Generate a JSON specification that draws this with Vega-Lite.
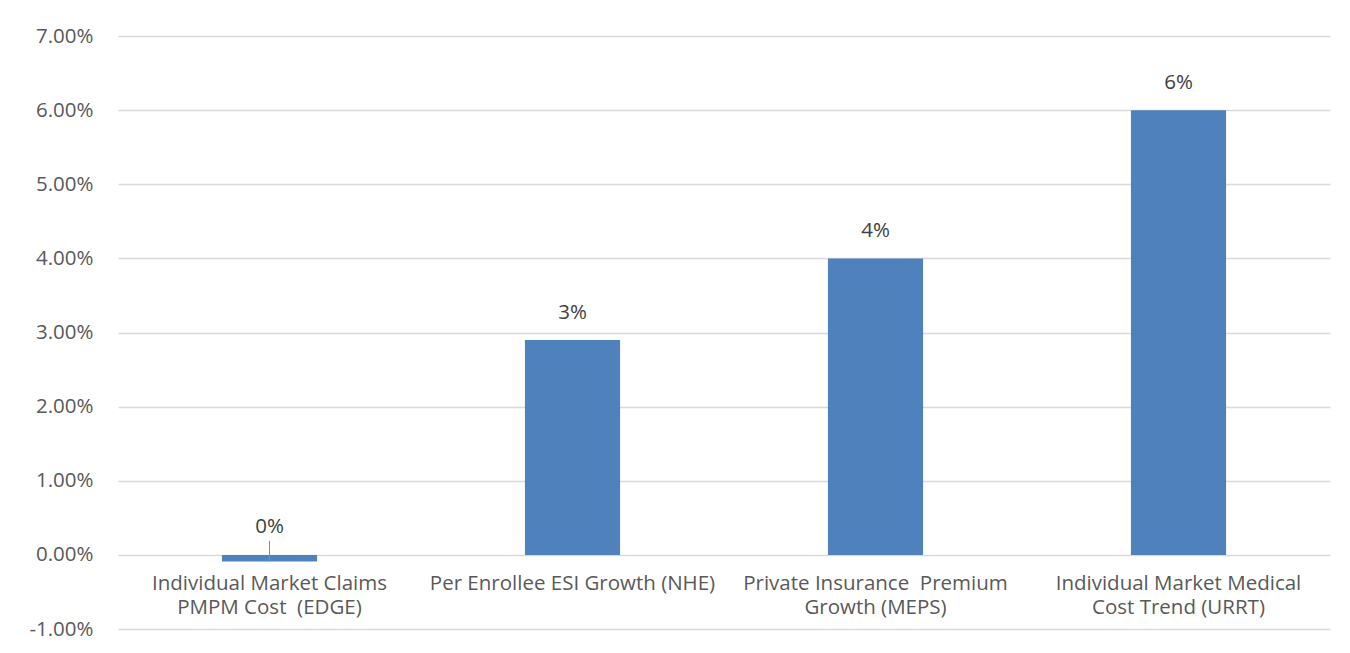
{
  "$schema": "https://vega.github.io/schema/vega-lite/v6.json",
  "width": 1212,
  "height": 593,
  "autosize": {"type": "none"},
  "padding": {"left": 118, "top": 36, "right": 20, "bottom": 24},
  "background": "white",
  "config": {
    "view": {"stroke": null},
    "font": "Open Sans",
    "axis": {"labelFont": "Open Sans", "labelColor": "#595959", "labelFontSize": 20.5, "labelLimit": 0}
  },
  "data": {
    "values": [
      {"category": "Individual Market Claims|PMPM Cost \u00a0(EDGE)", "value": -0.0009, "label": "0%"},
      {"category": "Per Enrollee ESI Growth (NHE)", "value": 0.029, "label": "3%"},
      {"category": "Private Insurance \u00a0Premium|Growth (MEPS)", "value": 0.04, "label": "4%"},
      {"category": "Individual Market Medical|Cost Trend (URRT)", "value": 0.06, "label": "6%"}
    ]
  },
  "encoding": {
    "x": {
      "field": "category",
      "type": "nominal",
      "sort": null,
      "scale": {"paddingInner": 0.686, "paddingOuter": 0.343},
      "axis": {
        "title": null,
        "orient": "bottom",
        "offset": -74.125,
        "domain": false,
        "ticks": false,
        "labelAngle": 0,
        "labelPadding": 19,
        "labelBaseline": "top",
        "labelLineHeight": 24,
        "labelExpr": "split(datum.label, '|')"
      }
    }
  },
  "layer": [
    {
      "mark": {"type": "bar", "color": "#4F81BD"},
      "encoding": {
        "y": {
          "field": "value",
          "type": "quantitative",
          "scale": {"domain": [-0.01, 0.07], "nice": false, "zero": false},
          "axis": {
            "title": null,
            "format": ".2%",
            "labelExpr": "replace(datum.label, '\u2212', '-')",
            "values": [-0.01, 0, 0.01, 0.02, 0.03, 0.04, 0.05, 0.06, 0.07],
            "domain": false,
            "ticks": false,
            "labelPadding": 25,
            "grid": true,
            "gridColor": "#d9d9d9",
            "gridWidth": 1.3
          }
        }
      }
    },
    {
      "transform": [{"filter": "datum.value >= 0"}],
      "mark": {"type": "text", "dy": -27, "fontSize": 20.5, "color": "#404040", "font": "Open Sans"},
      "encoding": {
        "y": {"field": "value", "type": "quantitative"},
        "text": {"field": "label"}
      }
    },
    {
      "transform": [{"filter": "datum.value < 0"}],
      "mark": {"type": "text", "dy": -35, "fontSize": 20.5, "color": "#404040", "font": "Open Sans"},
      "encoding": {
        "y": {"field": "value", "type": "quantitative"},
        "text": {"field": "label"}
      }
    },
    {
      "transform": [{"filter": "datum.value < 0"}],
      "mark": {"type": "rule", "color": "#8c8c8c", "strokeWidth": 1},
      "encoding": {
        "y": {"field": "value", "type": "quantitative"},
        "y2": {"datum": 0.0019}
      }
    }
  ]
}
